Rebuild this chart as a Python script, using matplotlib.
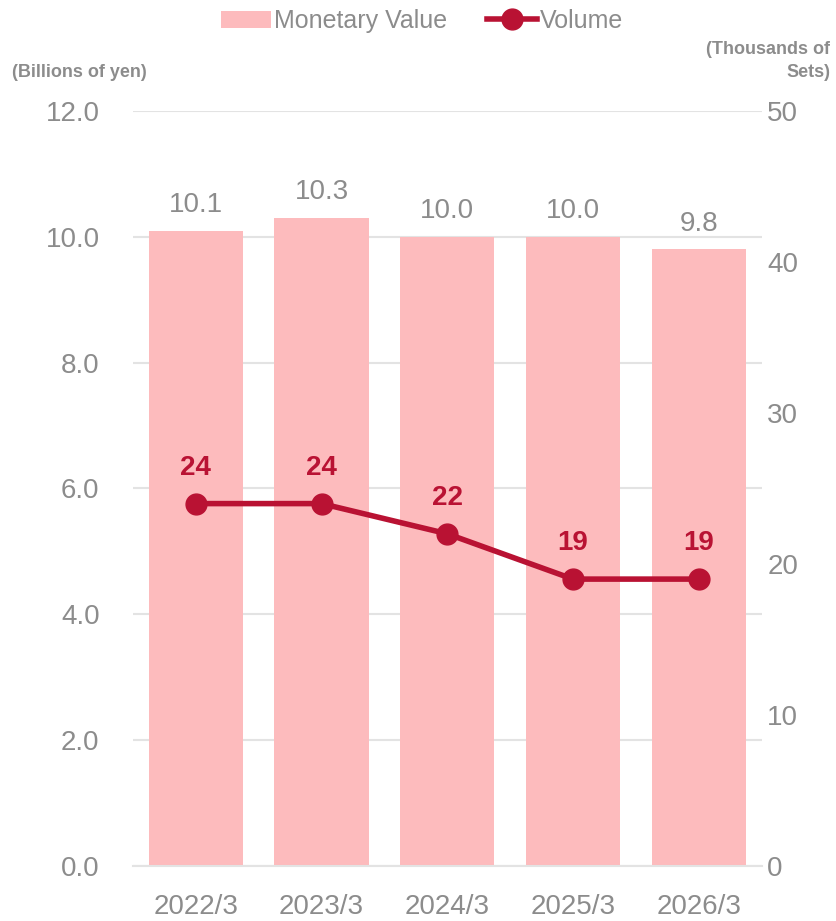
import matplotlib
matplotlib.use('Agg')
from matplotlib import pyplot as plt
from matplotlib import font_manager

anni = ['2022/3', '2023/3', '2024/3', '2025/3', '2026/3']
valore = [10.1, 10.3, 10.0, 10.0, 9.8]
volume = [24, 24, 22, 19, 19]
etichette_valore = ['10.1', '10.3', '10.0', '10.0', '9.8']

nomi = {f.name for f in font_manager.fontManager.ttflist}
font = 'Liberation Sans Narrow' if 'Liberation Sans Narrow' in nomi else 'Liberation Sans'
plt.rcParams['font.family'] = [font, 'DejaVu Sans']

grigio = '#8c8c8c'
rosa = '#fdbbbd'
rosso = '#b91233'

fig = plt.figure(figsize=(8.36, 9.21), dpi=100)
ax = fig.add_axes([0.159, 0.0597, 0.752, 0.8198])
ax2 = ax.twinx()

x = range(len(anni))
ax.bar(x, valore, width=0.75, color=rosa, zorder=2, label='Monetary Value')
for i, (v, t) in enumerate(zip(valore, etichette_valore)):
    ax.text(i, v + 0.2, t, ha='center', va='bottom', fontsize=20, color=grigio)

ax2.plot(x, volume, color=rosso, linewidth=4, marker='o', markersize=15, zorder=3, label='Volume')
for i, v in enumerate(volume):
    ax2.text(i, v + 1.5, str(v), ha='center', va='bottom', fontsize=20, fontweight='bold', color=rosso)

ax.set_xlim(-0.5, 4.5)
ax.set_ylim(0, 12)
ax2.set_ylim(0, 50)
ax.set_yticks([0, 2, 4, 6, 8, 10, 12])
ax.set_yticklabels(['%.1f' % t for t in [0, 2, 4, 6, 8, 10, 12]])
ax2.set_yticks([0, 10, 20, 30, 40, 50])
ax.set_xticks(list(x))
ax.set_xticklabels(anni)

ax.grid(axis='y', color='#e3e3e3', linewidth=1.5, zorder=0)
ax.set_axisbelow(True)
for a in (ax, ax2):
    for s in a.spines.values():
        s.set_visible(False)
    a.tick_params(length=0, labelsize=20, colors=grigio)
ax.spines['bottom'].set_visible(True)
ax.spines['bottom'].set_color('#e3e3e3')
ax.spines['bottom'].set_linewidth(1.5)
ax.tick_params(axis='y', pad=24)
ax.tick_params(axis='x', pad=20)
ax2.tick_params(axis='y', pad=4)
ax.set_zorder(ax2.get_zorder() - 1)
ax2.patch.set_visible(False)

fig.text(0.095, 0.921, '(Billions of yen)', ha='center', va='center', fontsize=13, fontweight='bold', color=grigio)
fig.text(0.993, 0.934, '(Thousands of\nSets)', ha='right', va='center', fontsize=13, fontweight='bold', color=grigio,
         multialignment='right', linespacing=1.45)

h1, l1 = ax.get_legend_handles_labels()
h2, l2 = ax2.get_legend_handles_labels()
fig.legend(h1 + h2, l1 + l2, loc='center', bbox_to_anchor=(0.505, 0.977), ncol=2, frameon=False,
           fontsize=18, labelcolor=grigio, handlelength=2.0, handletextpad=0.1, columnspacing=1.6)

plt.savefig('out.png', dpi=100)
